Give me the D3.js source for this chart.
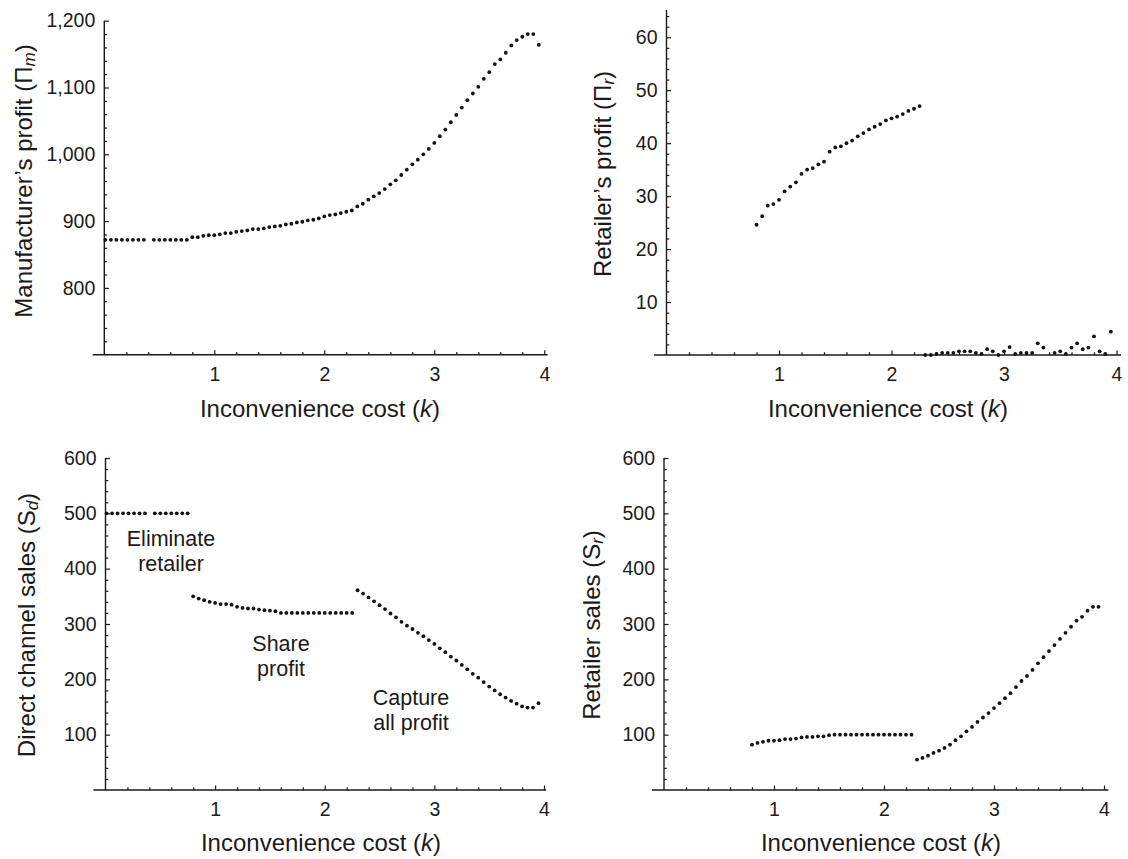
<!DOCTYPE html>
<html>
<head>
<meta charset="utf-8">
<script src="https://cdn.jsdelivr.net/npm/d3@7"></script>
<style>
  body { margin: 0; background: #fff; }
  svg { display: block; background: #fff; }
  text { font-family: "Liberation Sans", Arial, Helvetica, sans-serif; fill: #1a1a1a; }
</style>
</head>
<body>
<svg id="chart" width="1128" height="859"></svg>
<script>
// Inconvenience cost k for each policy regime
const kEliminate = [0.01, 0.06, 0.11, 0.16, 0.21, 0.26, 0.31, 0.36, 0.45, 0.50, 0.55, 0.60, 0.65, 0.70, 0.75];
const kShare = [0.80, 0.85, 0.90, 0.95, 1.00, 1.05, 1.10, 1.15, 1.20, 1.25, 1.30, 1.35, 1.40, 1.45, 1.50,
                1.55, 1.60, 1.65, 1.70, 1.75, 1.80, 1.85, 1.90, 1.95, 2.00, 2.05, 2.10, 2.15, 2.20, 2.25];
const kCapture = [2.30, 2.35, 2.40, 2.45, 2.50, 2.55, 2.60, 2.65, 2.70, 2.75, 2.80, 2.85, 2.90, 2.95, 3.00, 3.05, 3.10,
                  3.15, 3.20, 3.25, 3.30, 3.35, 3.40, 3.45, 3.50, 3.55, 3.60, 3.65, 3.70, 3.75, 3.80, 3.85, 3.90, 3.95];

// Manufacturer's profit
const mfrProfitEliminate = [872, 872, 872, 872, 872, 872, 872, 872, 872, 872, 872, 872, 872, 872, 872];
const mfrProfitShare = [876, 876, 878, 879, 879, 880, 882, 882, 884, 885, 886, 888, 888, 889, 891,
                        892, 893, 895, 896, 898, 899, 901, 902, 904, 907, 909, 910, 912, 914, 916];
const mfrProfitCapture = [922, 926, 932, 937, 942, 948, 955, 961, 969, 977, 985, 992, 1000, 1008, 1017, 1027, 1037,
                          1048, 1059, 1070, 1081, 1091, 1101, 1113, 1123, 1135, 1142, 1152, 1163, 1171, 1176, 1180, 1180, 1164];

// Retailer's profit (no retailer below k = 0.8)
const retProfitShare = [24.6, 26.2, 28.2, 28.5, 29.3, 30.9, 31.8, 32.6, 34.2, 35.0, 35.3, 36.0, 36.5, 38.4, 39.2,
                        39.4, 40.0, 40.5, 41.3, 41.9, 42.6, 43.1, 43.6, 44.3, 44.7, 45.0, 45.5, 46.1, 46.5, 47.0];
const retProfitCapture = [0, 0, 0.2, 0.4, 0.4, 0.4, 0.7, 0.7, 0.7, 0.4, 0.2, 1.1, 0.7, 0, 0.7, 1.5, 0.2,
                          0.4, 0.4, 0.4, 2.2, 1.4, null, 0.4, 0.7, 0.2, 1.4, 2.2, 1.1, 1.4, 3.5, 0.7, 0.2, 4.4];

// Direct channel sales
const directSalesEliminate = [500, 500, 500, 500, 500, 500, 500, 500, 500, 500, 500, 500, 500, 500, 500];
const directSalesShare = [350, 346, 343, 340, 338, 336, 336, 335, 331, 329, 328, 328, 326, 325, 324,
                          323, 320, 320, 320, 320, 320, 320, 320, 320, 320, 320, 320, 320, 320, 320];
const directSalesCapture = [361, 355, 348, 341, 334, 327, 319, 312, 304, 297, 291, 284, 278, 271, 264, 256, 249,
                            241, 234, 226, 218, 210, 203, 195, 187, 180, 173, 167, 161, 156, 151, 149, 149, 157];

// Retailer sales
const retSalesShare = [82, 85, 87, 89, 89, 90, 92, 92, 93, 95, 96, 96, 97, 97, 99,
                       100, 100, 100, 100, 100, 100, 100, 100, 100, 100, 100, 100, 100, 100, 100];
const retSalesCapture = [55, 58, 62, 67, 71, 76, 82, 90, 97, 106, 114, 123, 131, 139, 148, 157, 166,
                         175, 186, 197, 206, 217, 229, 240, 251, 262, 273, 284, 295, 306, 313, 324, 331, 331];

// Axis ticks
const xMajorTicks = [1, 2, 3, 4];
const xMinorTicks = [0.2, 0.4, 0.6, 0.8, 1.2, 1.4, 1.6, 1.8, 2.2, 2.4, 2.6, 2.8, 3.2, 3.4, 3.6, 3.8];
const mfrMajorTicks = [800, 900, 1000, 1100, 1200];
const mfrMinorTicks = [720, 740, 760, 780, 820, 840, 860, 880, 920, 940, 960, 980, 1020, 1040, 1060, 1080, 1120, 1140, 1160, 1180];
const retProfitMajorTicks = [10, 20, 30, 40, 50, 60];
const retProfitMinorTicks = [2, 4, 6, 8, 12, 14, 16, 18, 22, 24, 26, 28, 32, 34, 36, 38, 42, 44, 46, 48, 52, 54, 56, 58, 62, 64];
const salesMajorTicks = [100, 200, 300, 400, 500, 600];
const salesMinorTicks = [20, 40, 60, 80, 120, 140, 160, 180, 220, 240, 260, 280, 320, 340, 360, 380, 420, 440, 460, 480, 520, 540, 560, 580];

const pts = (ks, vs) => ks.map((k, i) => ({ k, v: vs[i] })).filter(d => d.v !== null);

const panels = [
  {
    points: [...pts(kEliminate, mfrProfitEliminate), ...pts(kShare, mfrProfitShare), ...pts(kCapture, mfrProfitCapture)],
    xRange: [104.3, 544.3], xLine: [-0.105, 4.03],
    yDomain: [700, 1200], yRange: [354.7, 20.7], yTop: 1200,
    yMajor: mfrMajorTicks, yMinor: mfrMinorTicks, yFormat: d3.format(","),
    yTitle: ["Manufacturer’s profit (Π", "m", ")"], yTitlePos: [26, 181],
    xTitlePos: [320, 417]
  },
  {
    points: [...pts(kShare, retProfitShare), ...pts(kCapture, retProfitCapture)],
    xRange: [666.5, 1116.5], xLine: [-0.11, 4.04],
    yDomain: [0, 65.15], yRange: [355, 10], yTop: 65.15,
    yMajor: retProfitMajorTicks, yMinor: retProfitMinorTicks, yFormat: d3.format("d"),
    yTitle: ["Retailer’s profit (Π", "r", ")"], yTitlePos: [605, 174],
    xTitlePos: [888, 417]
  },
  {
    points: [...pts(kEliminate, directSalesEliminate), ...pts(kShare, directSalesShare), ...pts(kCapture, directSalesCapture)],
    xRange: [105.5, 544], xLine: [-0.11, 4.02],
    yDomain: [0, 600], yRange: [790, 458], yTop: 600,
    yMajor: salesMajorTicks, yMinor: salesMinorTicks, yFormat: d3.format("d"),
    yTitle: ["Direct channel sales (S", "d", ")"], yTitlePos: [29, 625],
    xTitlePos: [321, 851],
    notes: [
      { lines: ["Eliminate", "retailer"], x: 171, y: 546 },
      { lines: ["Share", "profit"], x: 281, y: 651 },
      { lines: ["Capture", "all profit"], x: 411, y: 705 }
    ]
  },
  {
    points: [...pts(kShare, retSalesShare), ...pts(kCapture, retSalesCapture)],
    xRange: [664, 1104], xLine: [-0.11, 4.04],
    yDomain: [0, 600], yRange: [790, 458], yTop: 600,
    yMajor: salesMajorTicks, yMinor: salesMinorTicks, yFormat: d3.format("d"),
    yTitle: ["Retailer sales (S", "r", ")"], yTitlePos: [594, 625],
    xTitlePos: [881, 851]
  }
];

const svg = d3.select("#chart");
const ink = "#1a1a1a";

panels.forEach(p => {
  const x = d3.scaleLinear().domain([0, 4]).range(p.xRange);
  const y = d3.scaleLinear().domain(p.yDomain).range(p.yRange);
  const g = svg.append("g");
  const y0 = y(p.yDomain[0]);

  // axis lines
  g.append("line")
    .attr("x1", x(p.xLine[0])).attr("x2", x(p.xLine[1]))
    .attr("y1", y0).attr("y2", y0)
    .attr("stroke", ink).attr("stroke-width", 1.4);
  g.append("line")
    .attr("x1", x(0)).attr("x2", x(0))
    .attr("y1", y0).attr("y2", y(p.yTop))
    .attr("stroke", ink).attr("stroke-width", 1.4);

  // x ticks (pointing inward)
  const xAxisMajor = d3.axisBottom(x).tickValues(xMajorTicks).tickSize(-4.5).tickPadding(12).tickFormat(d3.format("d"));
  const xAxisMinor = d3.axisBottom(x).tickValues(xMinorTicks).tickSize(-2.8).tickFormat("");
  g.append("g").attr("transform", `translate(0,${y0})`).call(xAxisMinor)
    .call(a => a.select(".domain").remove());
  g.append("g").attr("transform", `translate(0,${y0})`).call(xAxisMajor)
    .call(a => a.select(".domain").remove())
    .call(a => a.selectAll("text").attr("font-size", 19.5).style("fill", ink));

  // y ticks (pointing inward)
  const yAxisMajor = d3.axisLeft(y).tickValues(p.yMajor).tickSize(-4.5).tickPadding(9).tickFormat(p.yFormat);
  const yAxisMinor = d3.axisLeft(y).tickValues(p.yMinor).tickSize(-2.8).tickFormat("");
  g.append("g").attr("transform", `translate(${x(0)},0)`).call(yAxisMinor)
    .call(a => a.select(".domain").remove());
  g.append("g").attr("transform", `translate(${x(0)},0)`).call(yAxisMajor)
    .call(a => a.select(".domain").remove())
    .call(a => a.selectAll("text").attr("font-size", 19.5).style("fill", ink));

  g.selectAll(".tick line").attr("stroke", ink).attr("stroke-width", 1.2);
  g.selectAll(".tick text").attr("font-family", "Liberation Sans, Arial, sans-serif");

  // points
  g.append("g").selectAll("circle")
    .data(p.points)
    .join("circle")
    .attr("cx", d => x(d.k))
    .attr("cy", d => y(d.v))
    .attr("r", 1.9)
    .attr("fill", "#111");

  // x title
  const xt = g.append("text")
    .attr("x", p.xTitlePos[0]).attr("y", p.xTitlePos[1])
    .attr("text-anchor", "middle").attr("font-size", 24);
  xt.append("tspan").text("Inconvenience cost (");
  xt.append("tspan").attr("font-style", "italic").text("k");
  xt.append("tspan").text(")");

  // y title
  const yt = g.append("text")
    .attr("transform", `translate(${p.yTitlePos[0]},${p.yTitlePos[1]}) rotate(-90)`)
    .attr("text-anchor", "middle").attr("dominant-baseline", "middle").attr("font-size", 24);
  yt.append("tspan").text(p.yTitle[0]);
  yt.append("tspan").attr("font-style", "italic").attr("font-size", 17).attr("dy", 5).text(p.yTitle[1]);
  yt.append("tspan").attr("dy", -5).text(p.yTitle[2]);

  // regime annotations
  (p.notes || []).forEach(n => {
    const t = g.append("text").attr("text-anchor", "middle").attr("font-size", 21.5);
    n.lines.forEach((line, i) => {
      t.append("tspan").attr("x", n.x).attr("y", n.y + i * 25).text(line);
    });
  });
});
</script>
</body>
</html>
